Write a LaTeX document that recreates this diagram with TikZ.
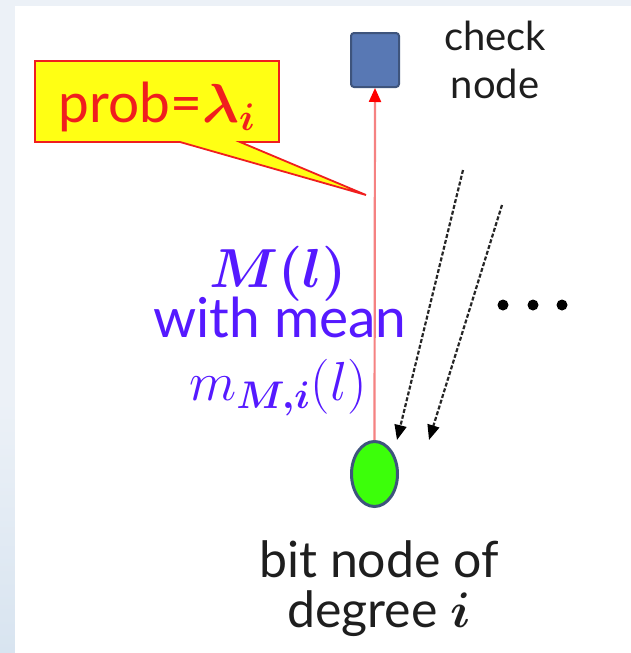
\RequirePackage{fix-cm}
\documentclass[tikz,border=0pt]{standalone}
\usepackage{amsmath}
\usepackage{bm}
\usepackage{fontspec}
\setmainfont{Lato}
\usetikzlibrary{arrows.meta,shapes.geometric}
\definecolor{bgstrip}{RGB}{236,241,247}
\definecolor{bgstripdark}{RGB}{216,228,240}
\definecolor{chkfill}{RGB}{88,120,180}
\definecolor{chkedge}{RGB}{62,84,124}
\definecolor{bitfill}{RGB}{60,255,10}
\definecolor{calloutfill}{RGB}{255,255,20}
\definecolor{calloutedge}{RGB}{240,30,30}
\definecolor{redline}{RGB}{245,130,130}
\definecolor{bluetext}{RGB}{85,25,255}
\definecolor{darktext}{RGB}{30,30,30}
\tikzset{
  txt/.style={text=darktext, inner sep=0pt, anchor=base},
  bluetxt/.style={font=\fontsize{55}{60}\selectfont, text=bluetext, inner sep=0pt, anchor=base},
  dasharrow/.style={draw=black!85, dash pattern=on 4pt off 2pt, line width=2.2pt, -{Triangle[length=15pt,width=12pt,color=black]}},
}
\begin{document}
\begin{tikzpicture}[x=1pt,y=-1pt]
\useasboundingbox (0,0) rectangle (631,653);
% background
\fill[bgstrip] (0,0) rectangle (631,653);
\shade[top color=bgstrip, bottom color=bgstripdark] (0,400) rectangle (15,653);
\fill[white] (15,6) rectangle (631,653);
% callout
\path[fill=calloutfill, draw=calloutedge, line width=1.8pt, line join=miter]
  (35,61) -- (279,61) -- (279,142) -- (240,142) -- (366,195) -- (180,142) -- (35,142) -- cycle;
\node[font=\fontsize{55}{60}\selectfont, text=calloutedge, inner sep=0pt, anchor=base] (prob) at (157,122) {prob=$\bm{\lambda_i}$};
% nodes
\node[draw=chkedge, fill=chkfill, line width=2pt, rounded corners=3pt, minimum width=48pt, minimum height=54pt, inner sep=0pt] (chk) at (375,60) {};
\node[ellipse, draw=chkedge, fill=bitfill, line width=3pt, minimum width=46pt, minimum height=65pt, inner sep=0pt] (bit) at (374.5,474) {};
% red arrow
\draw[redline, line width=2.2pt, -{Triangle[length=14pt,width=12pt,color=red]}] (bit.north) -- (chk.south);
% dashed arrows
\coordinate (s1) at (463,170);
\coordinate (e1) at (397,440);
\coordinate (s2) at (502,205);
\coordinate (e2) at (429,440);
\draw[dasharrow] (s1) -- (e1);
\draw[dasharrow] (s2) -- (e2);
% dots
\foreach \xx in {503,533,562}{
  \fill[black] (\xx,305) circle (5.5pt);
}
% texts
\node[txt, font=\fontsize{40}{44}\selectfont] (chk1) at (495,50) {check};
\node[txt, font=\fontsize{40}{44}\selectfont] (chk2) at (495,98) {node};
\node[bluetxt] (ml) at (278,287) {$\bm{M(l)}$};
\node[bluetxt] (wm) at (280,337) {with mean};
\node[bluetxt] (mm) at (278,400) {$m_{\bm{M,i}}(l)$};
\node[txt, font=\fontsize{50}{55}\selectfont] (bit1) at (379,577) {bit node of};
\node[txt, font=\fontsize{50}{55}\selectfont] (bit2) at (379,627) {degree $\bm{i}$};
\end{tikzpicture}
\end{document}
